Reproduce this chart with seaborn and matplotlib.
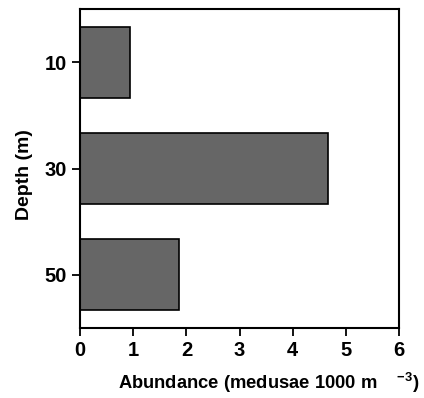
import matplotlib
matplotlib.use("Agg")
import matplotlib.pyplot as plt
import seaborn as sns
import pandas as pd

# Data
depths = ["10", "30", "50"]
abundance = [0.93, 4.67, 1.86]

df = pd.DataFrame({"Depth": depths, "Abundance": abundance})

sns.set_style("ticks")
plt.rcParams["font.family"] = ["Liberation Sans", "DejaVu Sans"]
plt.rcParams["font.weight"] = "bold"
plt.rcParams["text.color"] = "black"
plt.rcParams["axes.labelcolor"] = "black"
plt.rcParams["mathtext.fontset"] = "custom"
plt.rcParams["mathtext.rm"] = "Liberation Sans:bold"
plt.rcParams["mathtext.bf"] = "Liberation Sans:bold"

fig = plt.figure(figsize=(4.24, 3.98), dpi=100)
ax = fig.add_axes([0.189, 0.176, 0.752, 0.801])

sns.barplot(data=df, x="Abundance", y="Depth", orient="h", color="#666666",
            edgecolor="black", linewidth=1.2, width=0.67, saturation=1, ax=ax)

ax.set_xlim(0, 6)
ax.set_ylim(2.5, -0.5)
ax.set_xticks(range(0, 7))
for s in ax.spines.values():
    s.set_linewidth(1.5)
    s.set_color("black")
ax.tick_params(direction="out", length=6, width=1.3, labelsize=14.5, colors="black")
for lbl in ax.get_xticklabels() + ax.get_yticklabels():
    lbl.set_fontweight("bold")

ax.set_xlabel(r"Abundance (medusae 1000 m    $^{-3}$)", fontsize=13.2,
              fontweight="bold", color="black")
ax.xaxis.set_label_coords(0.59, -0.135)
ax.set_ylabel("Depth (m)", fontsize=14, fontweight="bold", color="black")
ax.yaxis.set_label_coords(-0.147, 0.48)

fig.savefig("out.png", dpi=100)
